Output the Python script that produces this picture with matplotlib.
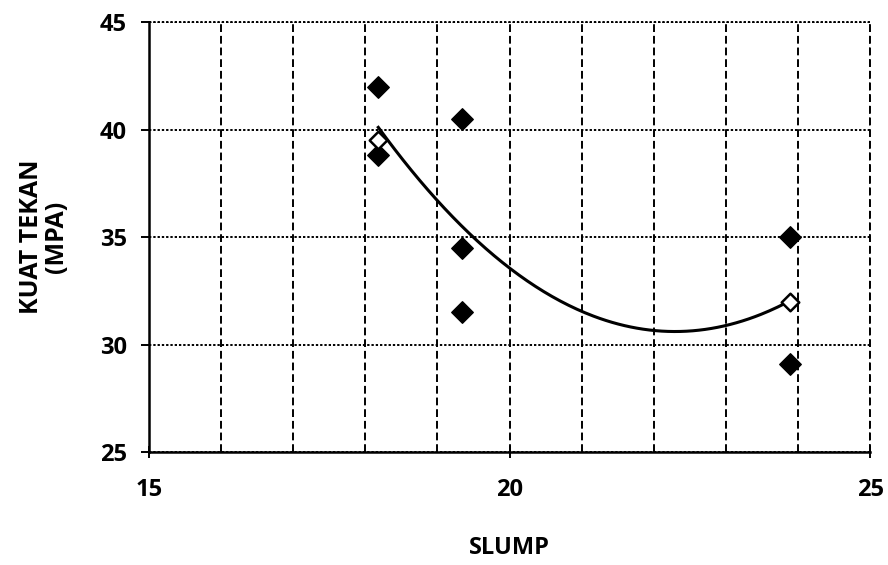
import numpy as np
import matplotlib.pyplot as plt

# slump (cm) vs compressive strength (MPa)
slump_filled = [18.18, 18.18, 19.34, 19.34, 19.34, 23.89, 23.89]
kuat_filled = [42.0, 38.8, 40.5, 34.5, 31.5, 35.0, 29.1]
slump_open = [18.18, 23.89]
kuat_open = [39.5, 32.0]

x_ticks = [15, 20, 25]
y_ticks = [25, 30, 35, 40, 45]

plt.rcParams['font.family'] = ['Open Sans', 'DejaVu Sans']
plt.rcParams['font.weight'] = 'bold'

fig = plt.figure(figsize=(8.88, 5.65), dpi=100)
ax = fig.add_axes([0.1678, 0.2, 0.812, 0.761])

# polynomial trendline (order 2) over all points
all_x = np.array(slump_filled + slump_open)
all_y = np.array(kuat_filled + kuat_open)
coef = np.polyfit(all_x, all_y, 2)
xs = np.linspace(all_x.min(), all_x.max(), 200)
ax.plot(xs, np.polyval(coef, xs), color='black', lw=2.2, zorder=3)

ax.scatter(slump_filled, kuat_filled, marker='D', s=120, color='black', zorder=4)
ax.scatter(slump_open, kuat_open, marker='D', s=80, facecolor='white',
           edgecolor='black', lw=1.8, zorder=4)

ax.set_xlim(15, 25)
ax.set_ylim(25, 45)
ax.set_xticks(x_ticks)
ax.set_xticks(np.arange(15, 26, 1), minor=True)
ax.set_yticks(y_ticks)

ax.grid(True, axis='x', which='both', color='black', ls=(0, (4, 2)), lw=1.4)
ax.grid(True, axis='y', which='major', color='black', ls=(0, (1.2, 1.0)), lw=1.4)
ax.axvline(25, color='black', ls=(0, (4, 2)), lw=1.4, clip_on=False, zorder=0.5)
ax.axhline(45, color='black', ls=(0, (1.2, 1.0)), lw=1.4, clip_on=False, zorder=0.5)
ax.set_axisbelow(True)

for s in ['top', 'right']:
    ax.spines[s].set_visible(False)
ax.spines['left'].set_linewidth(1.8)
ax.spines['bottom'].set_linewidth(1.8)

ax.tick_params(axis='y', which='major', length=6, width=1.4, pad=10, labelsize=17)
ax.tick_params(axis='x', which='major', length=8, width=1.4, pad=15, labelsize=17,
               direction='inout')
ax.tick_params(axis='x', which='minor', length=0)
for lab in ax.get_xticklabels() + ax.get_yticklabels():
    lab.set_fontweight('bold')

ax.set_xlabel('SLUMP', fontsize=17, fontweight='bold', labelpad=24)
ax.set_ylabel('KUAT TEKAN\n(MPA)', fontsize=18, fontweight='bold', labelpad=22,
              linespacing=1.0)

fig.savefig('out.png', dpi=100)
